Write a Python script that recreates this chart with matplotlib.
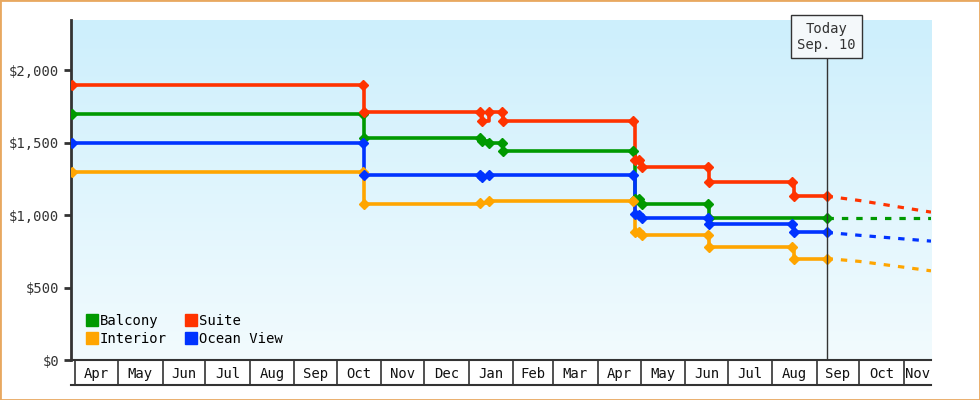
import matplotlib
matplotlib.use("Agg")
import matplotlib.pyplot as plt
import matplotlib.dates as mdates
import numpy as np
from matplotlib.colors import LinearSegmentedColormap

plt.rcParams['font.family'] = ['DejaVu Sans Mono']

suite_d = ["2017-03-30","2017-10-19","2017-10-20","2018-01-09","2018-01-10","2018-01-15","2018-01-24","2018-01-25","2018-04-26","2018-04-27","2018-04-30","2018-05-02","2018-06-17","2018-06-18","2018-08-15","2018-08-16","2018-09-08"]
suite_v = [1900,1900,1710,1710,1650,1710,1710,1650,1650,1380,1380,1330,1330,1230,1230,1130,1130]
balc_d = ["2017-03-30","2017-10-19","2017-10-20","2018-01-09","2018-01-10","2018-01-15","2018-01-24","2018-01-25","2018-04-26","2018-04-27","2018-04-30","2018-05-02","2018-06-17","2018-06-18","2018-09-08"]
balc_v = [1700,1700,1530,1530,1510,1500,1500,1440,1440,1110,1110,1075,1075,980,980]
ocean_d = ["2017-03-30","2017-10-19","2017-10-20","2018-01-09","2018-01-10","2018-01-15","2018-04-26","2018-04-27","2018-04-30","2018-05-02","2018-06-17","2018-06-18","2018-08-15","2018-08-16","2018-09-08"]
ocean_v = [1500,1500,1275,1275,1260,1275,1275,1010,1000,980,980,935,935,880,880]
inter_d = ["2017-03-30","2017-10-19","2017-10-20","2018-01-09","2018-01-15","2018-04-26","2018-04-27","2018-04-30","2018-05-02","2018-06-17","2018-06-18","2018-08-15","2018-08-16","2018-09-08"]
inter_v = [1300,1300,1075,1080,1100,1100,880,880,865,865,780,780,700,700]
fc_d = ["2018-09-08","2018-10-01","2018-11-01","2018-11-20"]
fc_suite = [1130,1100,1050,1020]
fc_balc = [980,980,980,980]
fc_ocean = [880,860,835,820]
fc_inter = [700,680,640,615]
series = [("Balcony","#009900",balc_d,balc_v,fc_balc),
          ("Interior","#ffa500",inter_d,inter_v,fc_inter),
          ("Suite","#ff3300",suite_d,suite_v,fc_suite),
          ("Ocean View","#0033ff",ocean_d,ocean_v,fc_ocean)]
months = ["Apr","May","Jun","Jul","Aug","Sep","Oct","Nov","Dec","Jan","Feb","Mar","Apr","May","Jun","Jul","Aug","Sep","Oct","Nov"]

def D(s): return mdates.datestr2num(s)

fig = plt.figure(figsize=(9.8,4.0), dpi=100)
fig.patches.append(plt.Rectangle((0,0),1,1,transform=fig.transFigure,fill=False,ec="#e8a860",lw=2))
ax = fig.add_axes([0.0724,0.1,0.8776,0.85])
x0, x1 = D("2017-03-29"), D("2018-11-20")
ytop = 2345
grad = np.linspace(0,1,256).reshape(-1,1)
cm = LinearSegmentedColormap.from_list("g",["#cdeffc","#f2fbfe"])
ax.imshow(grad, aspect="auto", cmap=cm, extent=[x0,x1,0,ytop], origin="upper", zorder=0)
ax.set_xlim(x0,x1); ax.set_ylim(0,ytop)

for name,c,d,v,fc in series:
    xs=[D(s) for s in d]
    ax.plot(xs,v,drawstyle="steps-post",color=c,lw=2.6,zorder=3)
    ax.plot(xs,v,ls="none",marker="D",ms=5.5,color=c,zorder=4)
    ax.plot([D(s) for s in fc_d],fc,color=c,lw=2.3,ls=(0,(2,2.5)),zorder=3)
    ax.plot([],[],ls="none",marker="s",ms=9,color=c,label=name)

today = D("2018-09-08")
ax.axvline(today,color="#333333",lw=1,zorder=5)
ax.text(today,ytop-12,"Today\nSep. 10",ha="center",va="top",fontsize=10,color="#333",
        bbox=dict(boxstyle="square,pad=0.45",fc="#f4f8fa",ec="#333",lw=1),zorder=6)

ax.set_yticks([0,500,1000,1500,2000])
ax.set_yticklabels(["$0","$500","$1,000","$1,500","$2,000"],fontsize=10,color="#333")
ax.tick_params(axis="y",length=5,width=2,color="#333")
for s in ["top","right"]: ax.spines[s].set_visible(False)
ax.spines["left"].set_linewidth(2); ax.spines["left"].set_color("#333")
ax.spines["bottom"].set_linewidth(1.5); ax.spines["bottom"].set_color("#333")

starts=[]
y,m=2017,4
for i in range(len(months)):
    starts.append(D(f"{y}-{m:02d}-01"))
    m+=1
    if m>12: m=1;y+=1
ax.set_xticks(starts)
ax.set_xticklabels([])
ax.tick_params(axis="x",which="major",length=18,width=1.2,color="#333",direction="out")
ends = starts[1:]+[x1]
mids=[(a+b)/2 for a,b in zip(starts,ends)]
ax.set_xticks(mids,minor=True)
ax.set_xticklabels(months,minor=True,fontsize=10,color="#111")
ax.tick_params(axis="x",which="minor",length=0,pad=5)
ax.plot([x0,x1],[-170,-170],color="#333",lw=1.5,clip_on=False)

ax.legend(loc="lower left",ncol=2,frameon=False,fontsize=10,handletextpad=0.1,
          columnspacing=1.2,borderaxespad=0.6,labelspacing=0.3,handlelength=1)
fig.savefig("out.png",dpi=100)
